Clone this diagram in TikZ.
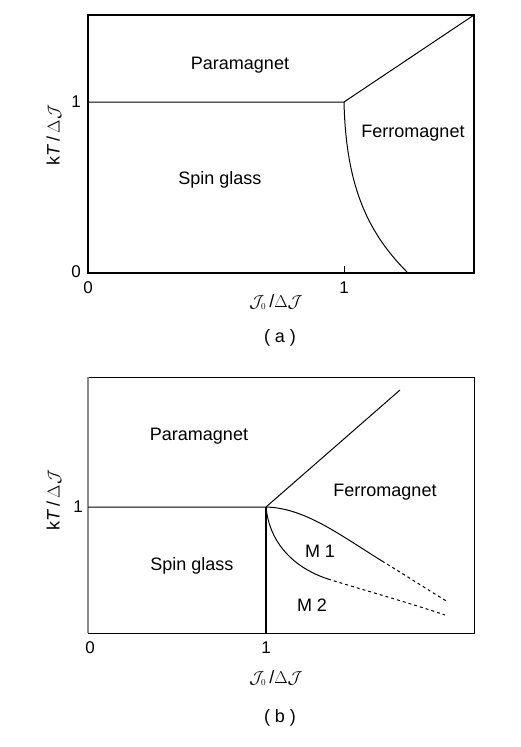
\documentclass[tikz,border=0pt]{standalone}
\usepackage{fontspec}
\setmainfont{Liberation Sans}
\usetikzlibrary{positioning}
\definecolor{axisgray}{HTML}{8A8A8A}
\tikzset{
  frame/.style={draw=black, line width=2pt},
  thinframe/.style={draw=black, line width=1pt},
  boundary/.style={draw=black, line width=1pt},
  firstorder/.style={draw=black, line width=1.8pt},
  metastable/.style={draw=black, line width=1pt, dash pattern=on 3pt off 3pt},
  phase/.style={font=\fontsize{18}{21}\selectfont, inner sep=0pt},
  ticklabel/.style={font=\fontsize{17}{20}\selectfont, inner sep=0pt},
  axislabel/.style={font=\fontsize{18}{21}\selectfont, inner sep=0pt},
  caption/.style={font=\fontsize{18}{21}\selectfont, inner sep=0pt}
}
\newcommand{\tempaxis}{k\textit{T}\,/\,$\Delta\mathcal{J}$}
\newcommand{\coupaxis}{$\mathcal{J}_{\scriptscriptstyle 0}$\,/$\Delta\mathcal{J}$}
\begin{document}
\begin{tikzpicture}[x=1pt, y=-1pt]
  \useasboundingbox (0,0) rectangle (521,747);

  % ---- panel (a)
  \coordinate (triA) at (344,102);
  \coordinate (leftA) at (88,102);
  \coordinate (cornerA) at (474,15);
  \coordinate (footA) at (408,273);
  \draw[frame] (88,15) rectangle (474,273);
  \draw[boundary] (344,273) -- (344,266);
  \draw[boundary] (leftA) -- (triA) -- (cornerA);
  \draw[boundary] (triA) .. controls (346,190) and (370,235) .. (footA);

  \node[phase] (paraA) at (240,65) {Paramagnet};
  \node[phase] (spinA) at (220,180) {Spin glass};
  \node[phase] (ferroA) at (413,133) {Ferromagnet};

  \node[ticklabel] (yoneA) at (76,102) {1};
  \node[ticklabel] (yzeroA) at (76,272) {0};
  \node[ticklabel] (xzeroA) at (88,288) {0};
  \node[ticklabel] (xoneA) at (344,288) {1};
  \node[axislabel, rotate=90] (ylabA) at (54,135) {\tempaxis};
  \node[axislabel] (xlabA) at (276,302) {\coupaxis};
  \node[caption] (capA) at (280,338) {( a )};

  % ---- panel (b)
  \coordinate (triB) at (266,507);
  \coordinate (leftB) at (88,507);
  \coordinate (tipB) at (400,390);
  \coordinate (footB) at (266,633);
  \coordinate (upperB) at (382,561);
  \coordinate (upperEnd) at (448,602);
  \coordinate (lowerB) at (328,579);
  \coordinate (lowerEnd) at (445,615);
  \draw[thinframe] (88,633) -- (474,633) -- (474,377) -- (88,377);
  \draw[draw=axisgray, line width=1.2pt] (88,377) -- (88,633);
  \draw[boundary] (leftB) -- (triB) -- (tipB);
  \draw[firstorder] (triB) -- (footB);
  \draw[boundary] (triB) .. controls (305,508) and (340,535) .. (upperB);
  \draw[metastable] (upperB) .. controls (405,575) and (425,588) .. (upperEnd);
  \draw[boundary] (triB) .. controls (270,548) and (300,570) .. (lowerB);
  \draw[metastable] (lowerB) .. controls (370,592) and (410,603) .. (lowerEnd);

  \node[phase] (paraB) at (199,436) {Paramagnet};
  \node[phase] (ferroB) at (385,492) {Ferromagnet};
  \node[phase] (spinB) at (192,566) {Spin glass};
  \node[phase] (mone) at (320,551) {M 1};
  \node[phase] (mtwo) at (312,605) {M 2};

  \node[ticklabel] (yoneB) at (78,507) {1};
  \node[ticklabel] (xzeroB) at (90,648) {0};
  \node[ticklabel] (xoneB) at (266,648) {1};
  \node[axislabel, rotate=90] (ylabB) at (54,500) {\tempaxis};
  \node[axislabel] (xlabB) at (276,678) {\coupaxis};
  \node[caption] (capB) at (280,718) {( b )};
\end{tikzpicture}
\end{document}
